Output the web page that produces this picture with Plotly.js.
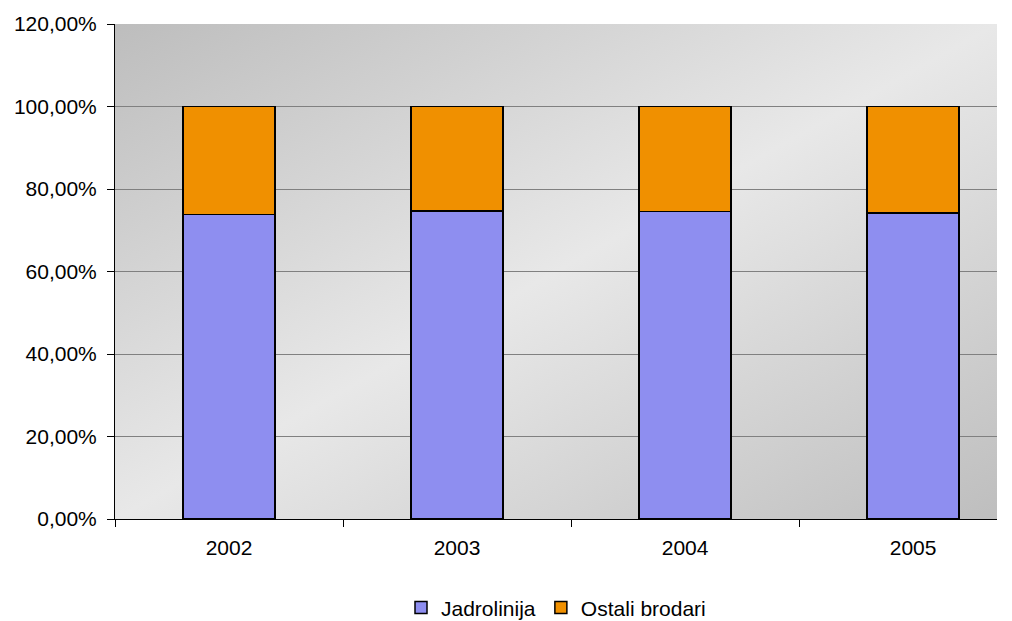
<!DOCTYPE html>
<html>
<head>
<meta charset="utf-8">
<script src="https://cdn.plot.ly/plotly-3.0.1.min.js"></script>
<style>html,body{margin:0;padding:0;background:#fff;}#chart{width:1012px;height:621px;}</style>
</head>
<body>
<div id="chart"></div>
<script>
var years = ["2002", "2003", "2004", "2005"];
var jadrolinija = [0.7386, 0.7468, 0.7460, 0.7420];
var ostali = [0.2614, 0.2532, 0.2540, 0.2580];
var seriesNames = ["Jadrolinija", "Ostali brodari"];
var yTicks = [0, 0.2, 0.4, 0.6, 0.8, 1.0, 1.2];

var bgSvg = '<svg xmlns="http://www.w3.org/2000/svg" width="100" height="100" preserveAspectRatio="none">' +
  '<defs><linearGradient id="g" x1="0" y1="0" x2="1" y2="1">' +
  '<stop offset="0" stop-color="#bdbdbd"/><stop offset="0.5" stop-color="#e8e8e8"/><stop offset="1" stop-color="#bebebe"/>' +
  '</linearGradient></defs><rect width="100" height="100" fill="url(#g)"/></svg>';
var bgUri = 'data:image/svg+xml;base64,' + btoa(bgSvg);

var traces = [
  {
    type: 'bar', name: seriesNames[0], x: years, y: jadrolinija,
    marker: {color: '#8e8ef0', line: {color: '#000000', width: 1.5}},
    hoverinfo: 'x+y'
  },
  {
    type: 'bar', name: seriesNames[1], x: years, y: ostali,
    marker: {color: '#f09000', line: {color: '#000000', width: 1.5}},
    hoverinfo: 'x+y'
  }
];

var layout = {
  width: 1012, height: 621,
  margin: {l: 115, r: 15, t: 24, b: 102, autoexpand: false},
  barmode: 'stack',
  bargap: 0.596,
  separators: ',.',
  paper_bgcolor: '#ffffff',
  plot_bgcolor: 'rgba(0,0,0,0)',
  font: {family: 'Liberation Sans, Arial, sans-serif', size: 21, color: '#000000'},
  images: [{
    source: bgUri, xref: 'paper', yref: 'paper', x: 0, y: 1, sizex: 1, sizey: 1,
    sizing: 'stretch', layer: 'below', xanchor: 'left', yanchor: 'top'
  }],
  xaxis: {
    type: 'category', range: [-0.5, 3.368], tickson: 'boundaries',
    ticks: 'outside', ticklen: 7, tickcolor: '#000000', tickwidth: 1,
    showline: true, linecolor: '#000000', linewidth: 1,
    showgrid: false, zeroline: false, fixedrange: true, automargin: false,
    ticklabelstandoff: 10,
    tickfont: {size: 21}
  },
  yaxis: {
    range: [0, 1.2], tickvals: yTicks, tickformat: '.2%',
    ticks: 'outside', ticklen: 7, tickcolor: '#000000', tickwidth: 1,
    showline: true, linecolor: '#000000', linewidth: 1,
    showgrid: true, gridcolor: '#808080', gridwidth: 1,
    zeroline: false, fixedrange: true, automargin: false,
    ticklabelstandoff: 6,
    tickfont: {size: 21}
  },
  legend: {
    orientation: 'h', x: 0.5, xanchor: 'center',
    yref: 'container', y: 0.021, yanchor: 'middle',
    font: {size: 21}, bgcolor: 'rgba(0,0,0,0)', traceorder: 'normal',
    itemwidth: 30
  },
  showlegend: true
};

Plotly.newPlot('chart', traces, layout, {displayModeBar: false, staticPlot: true});
</script>
</body>
</html>
